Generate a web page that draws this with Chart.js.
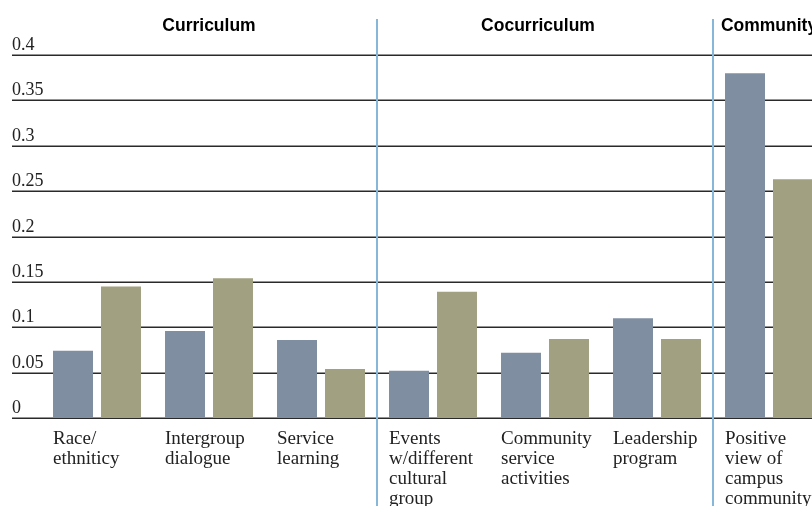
<!DOCTYPE html>
<html>
<head>
<meta charset="utf-8">
<script src="https://cdn.jsdelivr.net/npm/chart.js@4.4.1/dist/chart.umd.min.js"></script>
<style>
	html, body { margin: 0; padding: 0; background: #fff; width: 812px; height: 506px; overflow: hidden; }
	#wrap { position: absolute; left: 0; top: 0; width: 830px; height: 530px; }
	#chart { width: 830px; height: 530px; }
</style>
</head>
<body>
<div id="wrap"><canvas id="chart" width="830" height="530"></canvas></div>
<script>
	// categorias (multilinea) y valores
	var categorias = [
		['Race/', 'ethniticy'],
		['Intergroup', 'dialogue'],
		['Service', 'learning'],
		['Events', 'w/different', 'cultural', 'group'],
		['Community', 'service', 'activities'],
		['Leadership', 'program'],
		['Positive', 'view of', 'campus', 'community']
	];
	var serieAzul = [0.074, 0.096, 0.086, 0.052, 0.072, 0.110, 0.380];
	var serieOliva = [0.145, 0.154, 0.054, 0.139, 0.087, 0.087, 0.263];

	var yTicks = [0, 0.05, 0.1, 0.15, 0.2, 0.25, 0.3, 0.35, 0.4];
	var yTickLabels = ['0', '0.05', '0.1', '0.15', '0.2', '0.25', '0.3', '0.35', '0.4'];

	var grupos = ['Curriculum', 'Cocurriculum', 'Community'];
	var grupoInicio = [0, 3, 6];
	var grupoFin = [2, 5, 6];

	var fuenteSerif = '"Liberation Serif", "Times New Roman", serif';
	var fuenteSans = '"Liberation Sans", Arial, Helvetica, sans-serif';

	var decoracion = {
		id: 'decoracion',
		beforeDatasetsDraw: function (chart) {
			var ctx = chart.ctx;
			var y = chart.scales.y;
			ctx.save();
			ctx.strokeStyle = '#2a2a2a';
			ctx.lineWidth = 1.5;
			ctx.fillStyle = '#222';
			ctx.font = '18px ' + fuenteSerif;
			ctx.textAlign = 'left';
			ctx.textBaseline = 'alphabetic';
			yTicks.forEach(function (v, i) {
				var py = Math.round(y.getPixelForValue(v)) + 0.25;
				ctx.beginPath();
				ctx.moveTo(12, py);
				ctx.lineTo(chart.width, py);
				ctx.stroke();
				ctx.fillText(yTickLabels[i], 12, py - 5);
			});
			ctx.restore();
		},
		afterDraw: function (chart) {
			var ctx = chart.ctx;
			var x = chart.scales.x;
			var mitad = (x.getPixelForValue(1) - x.getPixelForValue(0)) / 2;
			ctx.save();
			// separadores de grupo
			ctx.strokeStyle = '#86b6d8';
			ctx.lineWidth = 2;
			for (var g = 1; g < grupos.length; g++) {
				var sx = (x.getPixelForValue(grupoFin[g - 1]) + x.getPixelForValue(grupoInicio[g])) / 2;
				ctx.beginPath();
				ctx.moveTo(sx, 19);
				ctx.lineTo(sx, chart.height);
				ctx.stroke();
			}
			// titulos de grupo
			ctx.fillStyle = '#000';
			ctx.font = 'bold 17.5px ' + fuenteSans;
			ctx.textAlign = 'center';
			ctx.textBaseline = 'middle';
			grupos.forEach(function (nombre, i) {
				var izq = x.getPixelForValue(grupoInicio[i]) - mitad;
				var der = x.getPixelForValue(grupoFin[i]) + mitad;
				var cx = (izq + der) / 2;
				if (i === 1) {
					cx -= 7; // el titulo central no esta del todo centrado en el original
				}
				ctx.fillText(nombre, cx, 26);
			});
			ctx.restore();
		}
	};

	new Chart(document.getElementById('chart'), {
		type: 'bar',
		data: {
			labels: categorias,
			datasets: [
				{ label: 'Serie 1', data: serieAzul, backgroundColor: '#7f8fa1' },
				{ label: 'Serie 2', data: serieOliva, backgroundColor: '#a1a080' }
			]
		},
		options: {
			responsive: false,
			animation: false,
			devicePixelRatio: 1,
			layout: { padding: { left: 41, top: 55, right: 5, bottom: 0 } },
			datasets: { bar: { barPercentage: 0.8333, categoryPercentage: 0.857 } },
			plugins: { legend: { display: false }, tooltip: { enabled: false } },
			scales: {
				x: {
					grid: { display: false, drawTicks: false },
					border: { display: false },
					ticks: {
						align: 'start',
						labelOffset: -44,
						padding: 11,
						autoSkip: false,
						maxRotation: 0,
						color: '#222',
						font: { family: fuenteSerif, size: 19, lineHeight: '20px' }
					},
					afterFit: function (scale) {
						scale.height = 112;
						// sin relleno lateral: las etiquetas pueden salirse del lienzo como en el original
						scale.paddingLeft = 0;
						scale.paddingRight = 0;
					}
				},
				y: {
					display: false,
					min: 0,
					max: 0.4
				}
			}
		},
		plugins: [decoracion]
	});
</script>
</body>
</html>
